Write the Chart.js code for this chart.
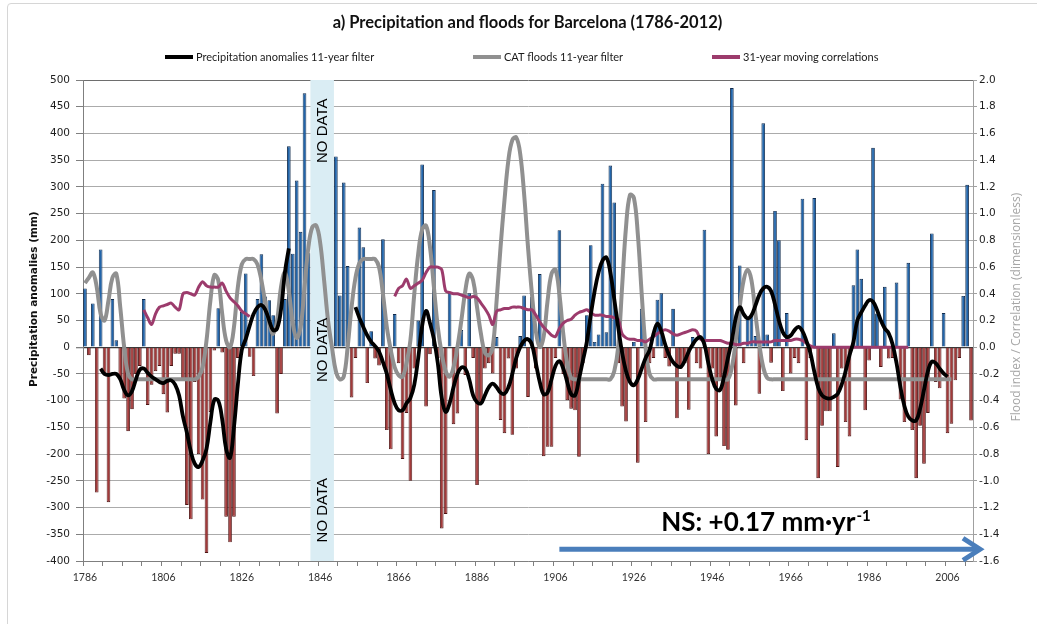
<!DOCTYPE html>
<html>
<head>
<meta charset="utf-8">
<script src="https://cdn.jsdelivr.net/npm/chart.js@4.4.1/dist/chart.umd.min.js"></script>
<style>
  html, body { margin: 0; padding: 0; background: #ffffff; }
  #wrap { position: relative; width: 1037px; height: 624px; overflow: hidden; }
  #frame { position: absolute; left: 7px; top: 3px; width: 1100px; height: 700px; border: 1px solid #d6d6d6; border-radius: 4px; }
  #c { position: absolute; left: 0; top: 0; }
</style>
</head>
<body>
<div id="wrap"><div id="frame"></div><canvas id="c" width="1037" height="624"></canvas></div>
<script>
// ---------------- DATA ----------------
const firstYear = 1786;
const lastYear = 2012;
const years = [];
for (let y = firstYear; y <= lastYear; y++) years.push(y);
const labelYears = [1786, 1806, 1826, 1846, 1866, 1886, 1906, 1926, 1946, 1966, 1986, 2006];
const noDataYears = [1844, 1849];

// Annual precipitation anomalies (mm), 1786-2012 (null = no data)
const precipAnomaly = [
  110, -15, 82, -272, 183, -50, -290, 90, 13, -60,          // 1786-1795
  -96, -157, -116, -50, -35, 90, -108, -70, -45, -35,       // 1796-1805
  -88, -122, -35, -12, -12, -60, -295, -322, -65, -200,     // 1806-1815
  -285, -385, -121, -6, 73, -10, -317, -365, -317, -20,     // 1816-1825
  66, 138, -18, -54, 90, 174, 95, 88, 60, -124,             // 1826-1835
  -50, 90, 376, 175, 312, 216, 475, 176, null, null,        // 1836-1845
  null, null, null, null, 357, 97, 308, 152, -94, -20,      // 1846-1855
  224, 187, -67, 30, -21, -34, 202, -155, -191, 62,         // 1856-1865
  -30, -209, -123, -250, -40, 50, 342, -111, -13, 294,      // 1866-1875
  -20, -339, -312, 102, -144, -124, 32, -52, 101, -20,      // 1876-1885
  -258, -105, -40, -30, -49, 19, -136, -161, -21, -164,     // 1886-1895
  -40, 21, 97, -93, 94, -40, 137, -204, -186, -186,         // 1896-1905
  -20, 219, -50, -99, -115, -118, -205, -30, 60, 191,       // 1906-1915
  10, 24, 306, 28, 340, 271, -30, -111, -139, -65,          // 1916-1925
  10, -216, 72, -140, -30, -20, 89, 101, -20, -36,          // 1926-1935
  72, -133, -40, -30, -117, 19, -30, -40, 220, -200,        // 1936-1945
  -40, -167, -60, -185, -192, 485, -109, 153, -30, 55,      // 1946-1955
  59, 21, -87, 419, 24, -29, 255, 200, -82, 64,             // 1956-1965
  -49, -20, -30, 278, -174, -20, 279, -245, -147, -120,     // 1966-1975
  -120, 26, -224, -40, -140, -167, 116, 183, 128, -118,     // 1976-1985
  -25, 373, 63, -37, 113, -21, -20, 121, -98, -140,         // 1986-1995
  158, -155, -245, -147, -218, -123, 213, -65, -77, 64,     // 1996-2005
  -161, -143, -62, -20, 96, 304, -137                       // 2006-2012
];

// Precipitation anomalies 11-year filter (mm) - two segments
const precipFilterStartA = 1790;
const precipFilterA = [
  -40, -50, -52, -50, -50, -60, -80, -90, -82, -60,
  -42, -40, -48, -55, -60, -65, -67, -63, -62, -70,
  -90, -130, -160, -195, -218, -224, -212, -190, -140, -98,
  -100, -135, -190, -207, -150, -70, -5, 15, 40, 62,
  75, 79, 70, 50, 32, 35, 70, 140, 185
];
const precipFilterStartB = 1855;
const precipFilterB = [
  75, 55, 38, 22, 10, 2, -8, -28, -50, -80,
  -105, -118, -118, -105, -95, -70, -20, 40, 68, 45,
  15, -30, -95, -121, -105, -75, -50, -38, -40, -60,
  -90, -103, -105, -90, -75, -68, -75, -85, -87, -75,
  -50, -20, 0, 12, 15, 5, -30, -65, -88, -85,
  -60, -35, -26, -40, -65, -88, -90, -60, -25, 10,
  60, 105, 140, 162, 168, 140, 90, 38, -10, -45,
  -65, -71, -60, -40, -20, -6, 25, 44, 30, 5,
  -15, -28, -35, -37, -25, -8, 5, 15, 19, 5,
  -30, -60, -78, -80, -55, -20, 13, 55, 75, 62,
  54, 60, 78, 98, 110, 113, 105, 80, 50, 28,
  19, 22, 32, 38, 30, 12, -10, -45, -75, -90,
  -95, -96, -93, -87, -70, -45, -15, 10, 50, 65,
  78, 88, 85, 70, 50, 35, 26, 5, -30, -75,
  -110, -130, -137, -137, -115, -80, -45, -27, -30, -40,
  -49, -55
];

// CAT floods 11-year filter (flood index), 1786-2007
const floodFilterStart = 1786;
const floodFilter = [
  0.48, 0.52, 0.56, 0.45, 0.25, 0.20, 0.35, 0.52, 0.55, 0.30,
  0.00, -0.20, -0.24, -0.24, -0.24, -0.24, -0.24, -0.24, -0.24, -0.24,
  -0.24, -0.24, -0.24, -0.24, -0.24, -0.24, -0.24, -0.24, -0.24, -0.22,
  -0.15, 0.05, 0.35, 0.54, 0.50, 0.25, 0.05, 0.00, 0.15, 0.45,
  0.62, 0.66, 0.66, 0.66, 0.62, 0.50, 0.33, 0.18, 0.10, 0.20,
  0.45, 0.56, 0.42, 0.18, 0.07, 0.15, 0.45, 0.75, 0.90, 0.91,
  0.78, 0.50, 0.20, 0.00, -0.18, -0.24, -0.22, 0.00, 0.30, 0.52,
  0.63, 0.66, 0.66, 0.66, 0.66, 0.60, 0.40, 0.15, -0.02, -0.15,
  -0.21, -0.22, -0.12, 0.05, 0.40, 0.70, 0.88, 0.91, 0.75, 0.45,
  0.15, -0.05, -0.18, -0.22, -0.15, 0.00, 0.20, 0.42, 0.55, 0.50,
  0.30, 0.10, -0.04, -0.06, 0.00, 0.35, 0.75, 1.10, 1.40, 1.55,
  1.57, 1.45, 1.15, 0.75, 0.40, 0.12, 0.00, 0.08, 0.35, 0.55,
  0.58, 0.40, 0.10, -0.12, -0.23, -0.24, -0.24, -0.24, -0.24, -0.24,
  -0.24, -0.24, -0.24, -0.24, -0.24, -0.18, 0.00, 0.45, 0.90, 1.14,
  1.12, 0.85, 0.40, 0.00, -0.20, -0.24, -0.24, -0.24, -0.24, -0.24,
  -0.24, -0.24, -0.24, -0.24, -0.24, -0.24, -0.24, -0.24, -0.24, -0.24,
  -0.24, -0.24, -0.24, -0.24, -0.24, -0.15, 0.05, 0.30, 0.50, 0.58,
  0.50, 0.25, 0.02, -0.15, -0.23, -0.24, -0.24, -0.24, -0.24, -0.24,
  -0.24, -0.24, -0.24, -0.24, -0.24, -0.24, -0.24, -0.24, -0.24, -0.24,
  -0.24, -0.24, -0.24, -0.24, -0.24, -0.24, -0.24, -0.24, -0.24, -0.24,
  -0.24, -0.24, -0.24, -0.24, -0.24, -0.24, -0.24, -0.24, -0.24, -0.24,
  -0.24, -0.24, -0.24, -0.24, -0.24, -0.24, -0.24, -0.24, -0.24, -0.24,
  -0.24, -0.24
];

// 31-year moving correlations - two segments
const corrStartA = 1801;
const corrA = [
  0.28, 0.22, 0.17, 0.25, 0.30, 0.31, 0.32, 0.33, 0.30, 0.28,
  0.40, 0.41, 0.40, 0.39, 0.45, 0.49, 0.46, 0.45, 0.45, 0.45,
  0.48, 0.42, 0.37, 0.34, 0.31, 0.27, 0.25, 0.23
];
const corrStartB = 1865;
const corrB = [
  0.38, 0.44, 0.46, 0.51, 0.44, 0.46, 0.48, 0.50, 0.56, 0.60,
  0.60, 0.60, 0.58, 0.42, 0.41, 0.40, 0.40, 0.39, 0.38, 0.37,
  0.38, 0.37, 0.33, 0.29, 0.24, 0.17, 0.27, 0.28, 0.29, 0.29,
  0.30, 0.30, 0.30, 0.29, 0.28, 0.28, 0.24, 0.19, 0.15, 0.12,
  0.09, 0.08, 0.14, 0.18, 0.20, 0.21, 0.24, 0.26, 0.27, 0.28,
  0.26, 0.24, 0.24, 0.24, 0.23, 0.23, 0.22, 0.21, 0.10, 0.07,
  0.06, 0.06, 0.05, 0.05, 0.04, 0.06, 0.08, 0.10, 0.12, 0.13,
  0.12, 0.10, 0.09, 0.10, 0.11, 0.12, 0.13, 0.12, 0.06, 0.05,
  0.05, 0.05, 0.05, 0.05, 0.04, 0.03, 0.03, 0.02, 0.02, 0.03,
  0.03, 0.04, 0.04, 0.04, 0.04, 0.04, 0.04, 0.05, 0.05, 0.05,
  0.05, 0.05, 0.06, 0.06, 0.05, 0.03, 0.01, 0.00, 0.00, 0.00,
  0.00, 0.00, 0.00, 0.00, 0.00, 0.00, 0.00, 0.00, 0.00, 0.00,
  0.00, 0.00, 0.00, 0.00, 0.00, 0.00, 0.00, 0.00, 0.00, 0.00,
  0.00, 0.00
];

const leftAxisTitle = 'Precipitation anomalies (mm)';
const rightAxisTitle = 'Flood index / Correlation (dimensionless)';
const trendText = 'NS: +0.17 mm\u00B7yr';
const trendSup = '-1';
const trendAnchorYear = 1933;
const trendArrowYear = 1907;

// ---------------- BUILD ----------------
function align(startYear, values) {
  const out = years.map(() => null);
  values.forEach((v, k) => { out[startYear - firstYear + k] = v; });
  return out;
}
function merge(a, b) { return a.map((v, i) => (v !== null ? v : b[i])); }

const precipFilter = merge(align(precipFilterStartA, precipFilterA), align(precipFilterStartB, precipFilterB));
const flood = align(floodFilterStart, floodFilter);
const corr = merge(align(corrStartA, corrA), align(corrStartB, corrB));

const COL = {
  barPos: '#2265aa', barPosEdge: '#0f2a4c',
  barNeg: '#a23a3a', barNegEdge: '#4d1414',
  black: '#000000', gray: '#909090', purple: '#9c3b6c',
  band: '#daedf4', grid: '#ababab', axis: '#7f7f7f', arrow: '#4a7ebb'
};

const legendItems = [
  { text: 'Precipitation anomalies 11-year filter', color: COL.black, x: 165 },
  { text: 'CAT floods 11-year filter', color: COL.gray, x: 473 },
  { text: '31-year moving correlations', color: COL.purple, x: 712 }
];

const overlay = {
  id: 'overlay',
  beforeDatasetsDraw(chart) {
    const { ctx, chartArea: a, scales: { x } } = chart;
    const half = (x.getPixelForValue(1) - x.getPixelForValue(0)) / 2;
    const x0 = x.getPixelForValue(noDataYears[0] - firstYear) - half;
    const x1 = x.getPixelForValue(noDataYears[1] - firstYear) + half;
    ctx.save();
    ctx.fillStyle = COL.band;
    ctx.fillRect(x0, a.top, x1 - x0, a.bottom - a.top);
    ctx.restore();
  },
  afterDatasetsDraw(chart) {
    const { ctx, chartArea: a, scales: { x, y } } = chart;
    // NO DATA labels
    const xc = (x.getPixelForValue(noDataYears[0] - firstYear) + x.getPixelForValue(noDataYears[1] - firstYear)) / 2;
    ctx.save();
    ctx.fillStyle = '#000';
    ctx.font = '15px "Liberation Sans", Arial, sans-serif';
    ctx.textAlign = 'center';
    ctx.textBaseline = 'middle';
    [405, -5, -305].forEach(v => {
      ctx.save();
      ctx.translate(xc + 1, y.getPixelForValue(v));
      ctx.rotate(-Math.PI / 2);
      ctx.fillText('NO DATA', 0, 0);
      ctx.restore();
    });
    ctx.restore();

    // Trend arrow
    const ay = y.getPixelForValue(-378);
    const ax0 = x.getPixelForValue(trendArrowYear - firstYear);
    const tip = a.right + 9;
    ctx.save();
    ctx.strokeStyle = COL.arrow;
    ctx.lineWidth = 5;
    ctx.beginPath();
    ctx.moveTo(ax0, ay);
    ctx.lineTo(tip - 3, ay);
    ctx.stroke();
    ctx.lineJoin = 'miter';
    ctx.beginPath();
    ctx.moveTo(tip - 19, ay - 11);
    ctx.lineTo(tip - 2, ay);
    ctx.lineTo(tip - 19, ay + 11);
    ctx.stroke();
    ctx.restore();

    // Trend text
    const tx = x.getPixelForValue(trendAnchorYear - firstYear);
    const ty = y.getPixelForValue(-343);
    ctx.save();
    ctx.fillStyle = '#000';
    ctx.textAlign = 'left';
    ctx.textBaseline = 'alphabetic';
    ctx.font = 'bold 26px Lato, "Open Sans", sans-serif';
    ctx.fillText(trendText, tx, ty);
    const w = ctx.measureText(trendText).width;
    ctx.font = 'bold 15px Lato, "Open Sans", sans-serif';
    ctx.fillText(trendSup, tx + w + 1, ty - 10);
    ctx.restore();
  },
  afterDraw(chart) {
    const { ctx, scales: { y } } = chart;
    ctx.save();
    // legend
    ctx.font = '11px Lato, "Open Sans", sans-serif';
    ctx.textBaseline = 'middle';
    ctx.textAlign = 'left';
    legendItems.forEach(it => {
      ctx.strokeStyle = it.color;
      ctx.lineWidth = 4;
      ctx.beginPath();
      ctx.moveTo(it.x, 57);
      ctx.lineTo(it.x + 28, 57);
      ctx.stroke();
      ctx.fillStyle = '#1a1a1a';
      ctx.fillText(it.text, it.x + 31, 57);
    });
    // axis titles
    ctx.textAlign = 'center';
    ctx.save();
    ctx.translate(34, y.getPixelForValue(90));
    ctx.rotate(-Math.PI / 2);
    ctx.font = 'bold 10.5px "DejaVu Sans", sans-serif';
    ctx.fillStyle = '#111';
    ctx.fillText(leftAxisTitle, 0, 0);
    ctx.restore();
    ctx.save();
    ctx.translate(1017, y.getPixelForValue(75));
    ctx.rotate(-Math.PI / 2);
    ctx.font = '12px "Open Sans", sans-serif';
    ctx.fillStyle = '#a6a6a6';
    ctx.fillText(rightAxisTitle, 0, 0);
    ctx.restore();
    ctx.restore();
  }
};

const ctx = document.getElementById('c').getContext('2d');
new Chart(ctx, {
  type: 'bar',
  data: {
    labels: years.map(String),
    datasets: [
      {
        type: 'line', label: 'Precipitation anomalies 11-year filter',
        data: precipFilter, yAxisID: 'y', borderColor: COL.black, borderWidth: 3.8,
        pointRadius: 0, tension: 0.4, spanGaps: false, order: 1
      },
      {
        type: 'line', label: '31-year moving correlations',
        data: corr, yAxisID: 'y1', borderColor: COL.purple, borderWidth: 3,
        pointRadius: 0, tension: 0.3, spanGaps: false, order: 2
      },
      {
        type: 'line', label: 'CAT floods 11-year filter',
        data: flood, yAxisID: 'y1', borderColor: COL.gray, borderWidth: 4,
        pointRadius: 0, tension: 0.4, spanGaps: false, order: 3
      },
      {
        type: 'bar', label: 'Precipitation anomalies',
        data: precipAnomaly, yAxisID: 'y',
        backgroundColor: precipAnomaly.map(v => (v !== null && v >= 0 ? COL.barPos : COL.barNeg)),
        borderColor: precipAnomaly.map(v => (v !== null && v >= 0 ? COL.barPosEdge : COL.barNegEdge)),
        borderWidth: 0.9, barPercentage: 0.93, categoryPercentage: 1.0, order: 10
      }
    ]
  },
  options: {
    responsive: false,
    animation: false,
    layout: { padding: { left: 28, right: 10, top: 0, bottom: 0 } },
    plugins: {
      legend: { display: false },
      tooltip: { enabled: false },
      title: {
        display: true,
        text: 'a) Precipitation and floods for Barcelona (1786-2012)',
        font: { family: 'Lato', size: 16.5, weight: 'bold' },
        color: '#111',
        padding: { top: 12.5, bottom: 47.7 }
      }
    },
    scales: {
      x: {
        type: 'category',
        offset: true,
        grid: {
          drawOnChartArea: false, drawTicks: true, tickLength: 5,
          tickColor: c => (c.index % 5 === 0 ? COL.axis : 'rgba(0,0,0,0)')
        },
        border: { color: COL.axis },
        ticks: {
          autoSkip: false, maxRotation: 0, minRotation: 0, padding: 5,
          font: { family: 'Lato', size: 10.5 }, color: '#333',
          callback: (v, i) => (labelYears.includes(years[i]) ? String(years[i]) : '')
        },
        afterFit: s => { s.height = 63; }
      },
      y: {
        position: 'left', min: -400, max: 500,
        ticks: { stepSize: 50, padding: 6, font: { family: 'DejaVu Sans', size: 10.5 }, color: '#1e1e1e' },
        grid: {
          color: c => (c.tick.value === 0 ? '#3a3a3a' : (c.tick.value === 500 ? '#6e6e6e' : COL.grid)),
          lineWidth: c => (c.tick.value === 0 ? 1.3 : 1),
          tickLength: 7, tickColor: COL.axis
        },
        border: { color: COL.axis },
        afterFit: s => { s.width = 55; }
      },
      y1: {
        position: 'right', min: -1.6, max: 2.0,
        ticks: {
          stepSize: 0.2, padding: 2, font: { family: 'DejaVu Sans', size: 10.5 }, color: '#1e1e1e',
          callback: v => (Math.abs(v) < 1e-9 ? '0.0' : Number(v).toFixed(1))
        },
        grid: { drawOnChartArea: false, tickLength: 4, tickColor: '#a0a0a0' },
        border: { color: '#a0a0a0' },
        afterFit: s => { s.width = 54; }
      }
    }
  },
  plugins: [overlay]
});
</script>
</body>
</html>
